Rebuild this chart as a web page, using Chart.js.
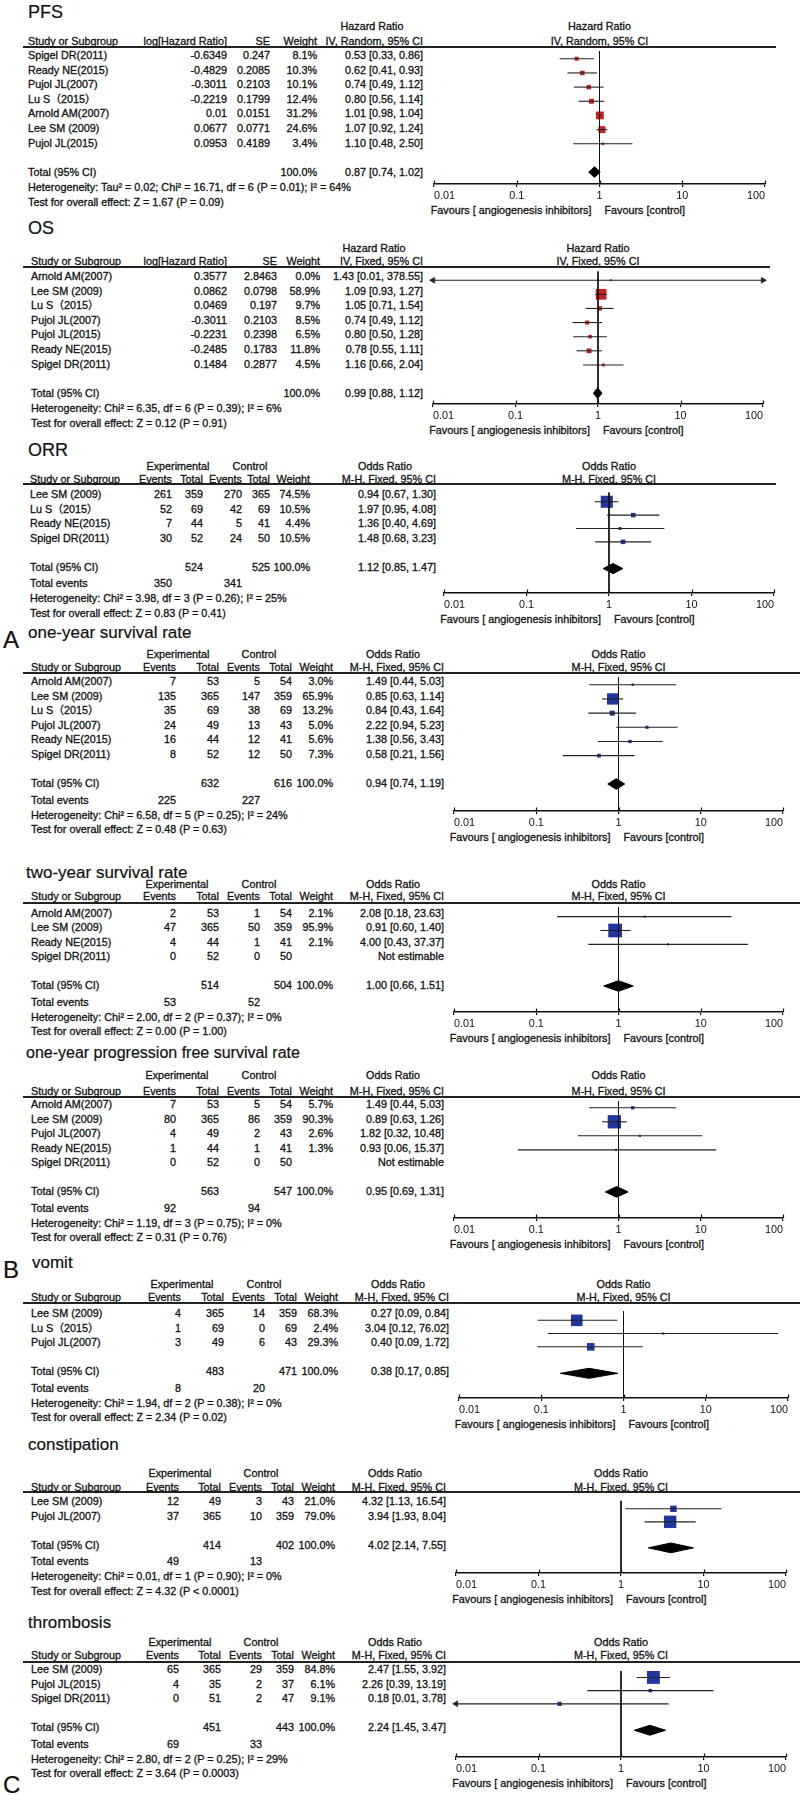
<!DOCTYPE html>
<html><head><meta charset="utf-8">
<script src="https://cdn.jsdelivr.net/npm/chart.js"></script>
<style>
html,body{margin:0;padding:0;background:#fff;}
#page{position:relative;width:800px;height:1795px;overflow:hidden;background:#fff;font-family:"Liberation Sans",Arial,"Noto Sans CJK SC",sans-serif;color:#111;}
.t{position:absolute;white-space:nowrap;line-height:1;font-size:10.8px;-webkit-text-stroke:0.3px #111;}
.hl{position:absolute;height:2px;background:#222;}
canvas{position:absolute;}
</style></head><body><div id="page"></div>
<script>
// ---------- axis ticks ----------
const tickValues = [0.01, 0.1, 1, 10, 100];
const tickLabels = ['0.01', '0.1', '1', '10', '100'];
const favLeft = 'Favours [ angiogenesis inhibitors]';
const favRight = 'Favours [control]';

// ---------- PFS ----------
const pfsStudy = ['Spigel DR(2011)', 'Ready NE(2015)', 'Pujol JL(2007)', 'Lu S（2015）', 'Arnold AM(2007)', 'Lee SM (2009)', 'Pujol JL(2015)'];
const pfsLogHR = [-0.6349, -0.4829, -0.3011, -0.2219, 0.01, 0.0677, 0.0953];
const pfsSE = [0.247, 0.2085, 0.2103, 0.1799, 0.0151, 0.0771, 0.4189];
const pfsWeight = [8.1, 10.3, 10.1, 12.4, 31.2, 24.6, 3.4];
const pfsHR = [0.53, 0.62, 0.74, 0.80, 1.01, 1.07, 1.10];
const pfsLow = [0.33, 0.41, 0.49, 0.56, 0.98, 0.92, 0.48];
const pfsHigh = [0.86, 0.93, 1.12, 1.14, 1.04, 1.24, 2.50];
const pfsTotal = [0.87, 0.74, 1.02];
const pfsHet = 'Heterogeneity: Tau² = 0.02; Chi² = 16.71, df = 6 (P = 0.01); I² = 64%';
const pfsTest = 'Test for overall effect: Z = 1.67 (P = 0.09)';

// ---------- OS ----------
const osStudy = ['Arnold AM(2007)', 'Lee SM (2009)', 'Lu S（2015）', 'Pujol JL(2007)', 'Pujol JL(2015)', 'Ready NE(2015)', 'Spigel DR(2011)'];
const osLogHR = [0.3577, 0.0862, 0.0469, -0.3011, -0.2231, -0.2485, 0.1484];
const osSE = [2.8463, 0.0798, 0.197, 0.2103, 0.2398, 0.1783, 0.2877];
const osWeight = [0.0, 58.9, 9.7, 8.5, 6.5, 11.8, 4.5];
const osHR = [1.43, 1.09, 1.05, 0.74, 0.80, 0.78, 1.16];
const osLow = [0.01, 0.93, 0.71, 0.49, 0.50, 0.55, 0.66];
const osHigh = [378.55, 1.27, 1.54, 1.12, 1.28, 1.11, 2.04];
const osTotal = [0.99, 0.88, 1.12];
const osHet = 'Heterogeneity: Chi² = 6.35, df = 6 (P = 0.39); I² = 6%';
const osTest = 'Test for overall effect: Z = 0.12 (P = 0.91)';

// ---------- ORR ----------
const orrStudy = ['Lee SM (2009)', 'Lu S（2015）', 'Ready NE(2015)', 'Spigel DR(2011)'];
const orrExpEvents = [261, 52, 7, 30];
const orrExpTotal = [359, 69, 44, 52];
const orrCtlEvents = [270, 42, 5, 24];
const orrCtlTotal = [365, 69, 41, 50];
const orrWeight = [74.5, 10.5, 4.4, 10.5];
const orrOR = [0.94, 1.97, 1.36, 1.48];
const orrLow = [0.67, 0.95, 0.40, 0.68];
const orrHigh = [1.30, 4.08, 4.69, 3.23];
const orrTotalN = [524, 525];
const orrTotalEvents = [350, 341];
const orrTotal = [1.12, 0.85, 1.47];
const orrHet = 'Heterogeneity: Chi² = 3.98, df = 3 (P = 0.26); I² = 25%';
const orrTest = 'Test for overall effect: Z = 0.83 (P = 0.41)';

// ---------- one-year survival rate ----------
const y1Study = ['Arnold AM(2007)', 'Lee SM (2009)', 'Lu S（2015）', 'Pujol JL(2007)', 'Ready NE(2015)', 'Spigel DR(2011)'];
const y1ExpEvents = [7, 135, 35, 24, 16, 8];
const y1ExpTotal = [53, 365, 69, 49, 44, 52];
const y1CtlEvents = [5, 147, 38, 13, 12, 12];
const y1CtlTotal = [54, 359, 69, 43, 41, 50];
const y1Weight = [3.0, 65.9, 13.2, 5.0, 5.6, 7.3];
const y1OR = [1.49, 0.85, 0.84, 2.22, 1.38, 0.58];
const y1Low = [0.44, 0.63, 0.43, 0.94, 0.56, 0.21];
const y1High = [5.03, 1.14, 1.64, 5.23, 3.43, 1.56];
const y1TotalN = [632, 616];
const y1TotalEvents = [225, 227];
const y1Total = [0.94, 0.74, 1.19];
const y1Het = 'Heterogeneity: Chi² = 6.58, df = 5 (P = 0.25); I² = 24%';
const y1Test = 'Test for overall effect: Z = 0.48 (P = 0.63)';

// ---------- two-year survival rate ----------
const y2Study = ['Arnold AM(2007)', 'Lee SM (2009)', 'Ready NE(2015)', 'Spigel DR(2011)'];
const y2ExpEvents = [2, 47, 4, 0];
const y2ExpTotal = [53, 365, 44, 52];
const y2CtlEvents = [1, 50, 1, 0];
const y2CtlTotal = [54, 359, 41, 50];
const y2Weight = [2.1, 95.9, 2.1, null];
const y2OR = [2.08, 0.91, 4.00, null];
const y2Low = [0.18, 0.60, 0.43, null];
const y2High = [23.63, 1.40, 37.37, null];
const y2TotalN = [514, 504];
const y2TotalEvents = [53, 52];
const y2Total = [1.00, 0.66, 1.51];
const y2Het = 'Heterogeneity: Chi² = 2.00, df = 2 (P = 0.37); I² = 0%';
const y2Test = 'Test for overall effect: Z = 0.00 (P = 1.00)';

// ---------- one-year progression free survival rate ----------
const pf1Study = ['Arnold AM(2007)', 'Lee SM (2009)', 'Pujol JL(2007)', 'Ready NE(2015)', 'Spigel DR(2011)'];
const pf1ExpEvents = [7, 80, 4, 1, 0];
const pf1ExpTotal = [53, 365, 49, 44, 52];
const pf1CtlEvents = [5, 86, 2, 1, 0];
const pf1CtlTotal = [54, 359, 43, 41, 50];
const pf1Weight = [5.7, 90.3, 2.6, 1.3, null];
const pf1OR = [1.49, 0.89, 1.82, 0.93, null];
const pf1Low = [0.44, 0.63, 0.32, 0.06, null];
const pf1High = [5.03, 1.26, 10.48, 15.37, null];
const pf1TotalN = [563, 547];
const pf1TotalEvents = [92, 94];
const pf1Total = [0.95, 0.69, 1.31];
const pf1Het = 'Heterogeneity: Chi² = 1.19, df = 3 (P = 0.75); I² = 0%';
const pf1Test = 'Test for overall effect: Z = 0.31 (P = 0.76)';

// ---------- vomit ----------
const vomStudy = ['Lee SM (2009)', 'Lu S（2015）', 'Pujol JL(2007)'];
const vomExpEvents = [4, 1, 3];
const vomExpTotal = [365, 69, 49];
const vomCtlEvents = [14, 0, 6];
const vomCtlTotal = [359, 69, 43];
const vomWeight = [68.3, 2.4, 29.3];
const vomOR = [0.27, 3.04, 0.40];
const vomLow = [0.09, 0.12, 0.09];
const vomHigh = [0.84, 76.02, 1.72];
const vomTotalN = [483, 471];
const vomTotalEvents = [8, 20];
const vomTotal = [0.38, 0.17, 0.85];
const vomHet = 'Heterogeneity: Chi² = 1.94, df = 2 (P = 0.38); I² = 0%';
const vomTest = 'Test for overall effect: Z = 2.34 (P = 0.02)';

// ---------- constipation ----------
const conStudy = ['Lee SM (2009)', 'Pujol JL(2007)'];
const conExpEvents = [12, 37];
const conExpTotal = [49, 365];
const conCtlEvents = [3, 10];
const conCtlTotal = [43, 359];
const conWeight = [21.0, 79.0];
const conOR = [4.32, 3.94];
const conLow = [1.13, 1.93];
const conHigh = [16.54, 8.04];
const conTotalN = [414, 402];
const conTotalEvents = [49, 13];
const conTotal = [4.02, 2.14, 7.55];
const conHet = 'Heterogeneity: Chi² = 0.01, df = 1 (P = 0.90); I² = 0%';
const conTest = 'Test for overall effect: Z = 4.32 (P < 0.0001)';

// ---------- thrombosis ----------
const thrStudy = ['Lee SM (2009)', 'Pujol JL(2015)', 'Spigel DR(2011)'];
const thrExpEvents = [65, 4, 0];
const thrExpTotal = [365, 35, 51];
const thrCtlEvents = [29, 2, 2];
const thrCtlTotal = [359, 37, 47];
const thrWeight = [84.8, 6.1, 9.1];
const thrOR = [2.47, 2.26, 0.18];
const thrLow = [1.55, 0.39, 0.01];
const thrHigh = [3.92, 13.19, 3.78];
const thrTotalN = [451, 443];
const thrTotalEvents = [69, 33];
const thrTotal = [2.24, 1.45, 3.47];
const thrHet = 'Heterogeneity: Chi² = 2.80, df = 2 (P = 0.25); I² = 29%';
const thrTest = 'Test for overall effect: Z = 3.64 (P = 0.0003)';

// ================= layout (positions only) =================
const ivCols1 = {name: 28, est: 227, se: 270, w: 317, ci: 423, h1: 372};
const ivCols2 = {name: 31, est: 227, se: 277, w: 320, ci: 423, h1: 374};
const orCols0 = {name: 30, ev: 172, tot: 203, cev: 242, ctot: 270, w: 310, ci: 436, expC: 178, ctlC: 250, orC: 385};
const orCols1 = {name: 31, ev: 176, tot: 219, cev: 260, ctot: 292, w: 333, ci: 444, expC: 178, ctlC: 259, orC: 393};
const orCols2 = {name: 31, ev: 181, tot: 224, cev: 265, ctot: 297, w: 338, ci: 449, expC: 182, ctlC: 264, orC: 398};
const orCols3 = {name: 31, ev: 179, tot: 221, cev: 262, ctot: 294, w: 335, ci: 446, expC: 180, ctlC: 261, orC: 395};

const page = document.getElementById('page');
const FONT = '"Liberation Sans", Arial, "Noto Sans CJK SC", sans-serif';
const FS = 10.8;
Chart.defaults.font.family = FONT;

function T(x, y, s, align, size) {
  const d = document.createElement('div');
  d.className = 't';
  d.textContent = s;
  d.style.left = x + 'px';
  d.style.top = y + 'px';
  if (size) { d.style.fontSize = size + 'px'; d.style.webkitTextStroke = '0.2px #111'; }
  const tx = align === 'r' ? '-100%' : align === 'c' ? '-50%' : '0';
  d.style.transform = 'translate(' + tx + ',-50%)';
  page.appendChild(d);
}
const f2 = v => v.toFixed(2);
const ciStr = (e, l, h) => f2(e) + ' [' + f2(l) + ', ' + f2(h) + ']';

const upTicks = {
  id: 'upTicks',
  afterDraw(chart) {
    const s = chart.scales.x, ctx = chart.ctx, y = chart.chartArea.bottom;
    ctx.save();
    ctx.strokeStyle = '#111';
    ctx.lineWidth = 1.2;
    tickValues.forEach(v => {
      const x = Math.round(s.getPixelForValue(v)) + 0.5;
      ctx.beginPath(); ctx.moveTo(x, y - 3.5); ctx.lineTo(x, y); ctx.stroke();
    });
    ctx.restore();
  }
};

function makeChart(L, est, low, high, weight, rowsY, totY, total, color) {
  const left = 400, width = 400;
  const plotH = L.axisY - L.lineY;
  const tickLen = 3, pad = 3, fs = FS;
  const axisH = tickLen + 2 * pad + fs * 1.2;
  const H = Math.ceil(plotH + axisH + 2);
  const cv = document.createElement('canvas');
  cv.width = width; cv.height = H;
  cv.style.left = left + 'px'; cv.style.top = L.lineY + 'px';
  cv.style.width = width + 'px'; cv.style.height = H + 'px';
  page.appendChild(cv);
  const clampX = v => Math.min(100, Math.max(0.01, v));
  const ds = [];
  ds.push({data: [{x: 1, y: 0}, {x: 1, y: plotH}], borderColor: '#111', borderWidth: 1, pointRadius: 0, clip: false});
  const marks = [], radii = [];
  est.forEach((e, i) => {
    if (e === null) return;
    const y = rowsY[i] - L.lineY;
    const arrowLo = low[i] <= 0.01, arrowHi = high[i] >= 100;
    ds.push({
      data: [{x: clampX(low[i]), y: y}, {x: clampX(high[i]), y: y}],
      borderColor: '#222', borderWidth: 1.1,
      pointRadius: [arrowLo ? 3.5 : 0, arrowHi ? 3.5 : 0],
      pointStyle: 'triangle', pointRotation: [-90, 90],
      pointBackgroundColor: '#222', pointBorderColor: '#222', pointBorderWidth: 0.5,
      clip: false
    });
    marks.push({x: e, y: y});
    const side = Math.max(2, 14 * Math.sqrt(weight[i] / 100));
    radii.push(side / Math.SQRT2);
  });
  ds.push({data: marks, showLine: false, pointStyle: 'rect', pointRadius: radii,
    pointBackgroundColor: color, pointBorderColor: color, pointBorderWidth: 0, clip: false});
  const ty = totY - L.lineY, dh = 5.5;
  ds.push({data: [{x: total[1], y: ty}, {x: total[0], y: ty - dh}, {x: total[2], y: ty}],
    borderColor: '#000', borderWidth: 1, pointRadius: 0, fill: false, clip: false});
  ds.push({data: [{x: total[1], y: ty}, {x: total[0], y: ty + dh}, {x: total[2], y: ty}],
    borderColor: '#000', borderWidth: 1, pointRadius: 0, fill: '-1', backgroundColor: '#000', clip: false});

  new Chart(cv, {
    type: 'line',
    data: {datasets: ds},
    options: {
      responsive: false, animation: false, devicePixelRatio: 1, events: [],
      layout: {padding: {left: L.x0 - left, right: left + width - L.x100, top: 0, bottom: H - plotH - axisH}},
      plugins: {legend: {display: false}, tooltip: {enabled: false}, title: {display: false}},
      elements: {line: {tension: 0}},
      scales: {
        x: {
          type: 'logarithmic', min: 0.01, max: 100, position: 'bottom',
          afterBuildTicks: s => { s.ticks = tickValues.map(v => ({value: v})); },
          ticks: {align: 'inner', padding: pad, autoSkip: false, maxRotation: 0, color: '#111',
            font: {size: fs, family: FONT}, callback: (v, i) => tickLabels[i]},
          grid: {display: true, drawOnChartArea: false, drawTicks: true, tickLength: tickLen, color: '#111', lineWidth: 1.2},
          border: {display: true, color: '#111', width: 1.5}
        },
        y: {type: 'linear', min: 0, max: plotH, reverse: true, display: false}
      }
    },
    plugins: [upTicks]
  });
}

function headerLine(L) {
  const hl = document.createElement('div');
  hl.className = 'hl';
  hl.style.left = '23px';
  hl.style.top = (L.lineY - 1) + 'px';
  hl.style.width = (L.lineR - 23) + 'px';
  page.appendChild(hl);
}

function ivPanel(L, title, method, study, logHR, se, weight, est, low, high, total, het, test, color) {
  const c = L.c;
  T(L.titleX, L.titleY, title, 'l', L.titleSize);
  headerLine(L);
  const xm = (L.x0 + L.x100) / 2;
  T(c.h1, L.h1Y, 'Hazard Ratio', 'c');
  T(xm, L.h1Y, 'Hazard Ratio', 'c');
  T(c.name, L.h2Y, 'Study or Subgroup', 'l');
  T(c.est, L.h2Y, 'log[Hazard Ratio]', 'r');
  T(c.se, L.h2Y, 'SE', 'r');
  T(c.w, L.h2Y, 'Weight', 'r');
  T(c.ci, L.h2Y, method, 'r');
  T(xm, L.h2Y, method, 'c');
  const rowsY = study.map((s, i) => L.row0 + i * L.step);
  study.forEach((s, i) => {
    const y = rowsY[i];
    T(c.name, y, s, 'l');
    T(c.est, y, String(logHR[i]), 'r');
    T(c.se, y, String(se[i]), 'r');
    T(c.w, y, weight[i].toFixed(1) + '%', 'r');
    T(c.ci, y, ciStr(est[i], low[i], high[i]), 'r');
  });
  const totY = L.row0 + (study.length + 1) * L.step;
  T(c.name, totY, 'Total (95% CI)', 'l');
  T(c.w, totY, '100.0%', 'r');
  T(c.ci, totY, ciStr(total[0], total[1], total[2]), 'r');
  T(c.name, totY + 15, het, 'l');
  T(c.name, totY + 30, test, 'l');
  T(xm - 8, L.axisY + 26, favLeft, 'r');
  T(xm + 5, L.axisY + 26, favRight, 'l');
  makeChart(L, est, low, high, weight, rowsY, totY, total, color);
}

function orPanel(L, title, letter, study, eE, eT, cE, cT, weight, est, low, high, totN, totEv, total, het, test) {
  const c = L.c;
  T(L.titleX, L.titleY, title, 'l', L.titleSize);
  if (letter) T(3, L.letterY, letter, 'l', 24);
  headerLine(L);
  const xm = (L.x0 + L.x100) / 2;
  T(c.expC, L.h1Y, 'Experimental', 'c');
  T(c.ctlC, L.h1Y, 'Control', 'c');
  T(c.orC, L.h1Y, 'Odds Ratio', 'c');
  T(xm, L.h1Y, 'Odds Ratio', 'c');
  T(c.name, L.h2Y, 'Study or Subgroup', 'l');
  T(c.ev, L.h2Y, 'Events', 'r');
  T(c.tot, L.h2Y, 'Total', 'r');
  T(c.cev, L.h2Y, 'Events', 'r');
  T(c.ctot, L.h2Y, 'Total', 'r');
  T(c.w, L.h2Y, 'Weight', 'r');
  T(c.ci, L.h2Y, 'M-H, Fixed, 95% CI', 'r');
  T(xm, L.h2Y, 'M-H, Fixed, 95% CI', 'c');
  const rowsY = study.map((s, i) => L.row0 + i * L.step);
  study.forEach((s, i) => {
    const y = rowsY[i];
    T(c.name, y, s, 'l');
    T(c.ev, y, String(eE[i]), 'r');
    T(c.tot, y, String(eT[i]), 'r');
    T(c.cev, y, String(cE[i]), 'r');
    T(c.ctot, y, String(cT[i]), 'r');
    if (est[i] === null) {
      T(c.ci, y, 'Not estimable', 'r');
    } else {
      T(c.w, y, weight[i].toFixed(1) + '%', 'r');
      T(c.ci, y, ciStr(est[i], low[i], high[i]), 'r');
    }
  });
  const totY = L.row0 + (study.length + 1) * L.step;
  T(c.name, totY, 'Total (95% CI)', 'l');
  T(c.tot, totY, String(totN[0]), 'r');
  T(c.ctot, totY, String(totN[1]), 'r');
  T(c.w, totY, '100.0%', 'r');
  T(c.ci, totY, ciStr(total[0], total[1], total[2]), 'r');
  const evY = totY + 16.5;
  T(c.name, evY, 'Total events', 'l');
  T(c.ev, evY, String(totEv[0]), 'r');
  T(c.cev, evY, String(totEv[1]), 'r');
  T(c.name, evY + 15, het, 'l');
  T(c.name, evY + 29.5, test, 'l');
  T(xm - 8, L.axisY + 26, favLeft, 'r');
  T(xm + 5, L.axisY + 26, favRight, 'l');
  makeChart(L, est, low, high, weight, rowsY, totY, total, '#2336a0');
}

const RED = '#c8201e';
const SUB = 17;
ivPanel({titleX: 28, titleY: 12, titleSize: 18, h1Y: 26, h2Y: 41, lineY: 47, lineR: 776, row0: 55, step: 14.6, axisY: 184, x0: 434, x100: 765, c: ivCols1},
  'PFS', 'IV, Random, 95% CI', pfsStudy, pfsLogHR, pfsSE, pfsWeight, pfsHR, pfsLow, pfsHigh, pfsTotal, pfsHet, pfsTest, RED);
ivPanel({titleX: 28, titleY: 228, titleSize: 18, h1Y: 248, h2Y: 261, lineY: 267, lineR: 770, row0: 276, step: 14.6, axisY: 404, x0: 433, x100: 763, c: ivCols2},
  'OS', 'IV, Fixed, 95% CI', osStudy, osLogHR, osSE, osWeight, osHR, osLow, osHigh, osTotal, osHet, osTest, RED);
orPanel({titleX: 28, titleY: 450, titleSize: 18, h1Y: 466, h2Y: 479, lineY: 484, lineR: 776, row0: 494, step: 14.5, axisY: 593, x0: 444, x100: 774, c: orCols0},
  'ORR', null, orrStudy, orrExpEvents, orrExpTotal, orrCtlEvents, orrCtlTotal, orrWeight, orrOR, orrLow, orrHigh, orrTotalN, orrTotalEvents, orrTotal, orrHet, orrTest);
orPanel({titleX: 28, titleY: 632, titleSize: SUB, letterY: 640, h1Y: 654, h2Y: 667, lineY: 673, lineR: 800, row0: 681, step: 14.6, axisY: 811, x0: 454, x100: 783, c: orCols1},
  'one-year survival rate', 'A', y1Study, y1ExpEvents, y1ExpTotal, y1CtlEvents, y1CtlTotal, y1Weight, y1OR, y1Low, y1High, y1TotalN, y1TotalEvents, y1Total, y1Het, y1Test);
orPanel({titleX: 26, titleY: 872, titleSize: SUB, h1Y: 884, h2Y: 896, lineY: 903, lineR: 800, row0: 913, step: 14.4, axisY: 1012, x0: 454, x100: 783, c: Object.assign({}, orCols1, {expC: 177})},
  'two-year survival rate', null, y2Study, y2ExpEvents, y2ExpTotal, y2CtlEvents, y2CtlTotal, y2Weight, y2OR, y2Low, y2High, y2TotalN, y2TotalEvents, y2Total, y2Het, y2Test);
orPanel({titleX: 26, titleY: 1053, titleSize: 16, h1Y: 1075, h2Y: 1091, lineY: 1097, lineR: 800, row0: 1104, step: 14.5, axisY: 1218, x0: 454, x100: 783, c: Object.assign({}, orCols1, {expC: 177})},
  'one-year progression free survival rate', null, pf1Study, pf1ExpEvents, pf1ExpTotal, pf1CtlEvents, pf1CtlTotal, pf1Weight, pf1OR, pf1Low, pf1High, pf1TotalN, pf1TotalEvents, pf1Total, pf1Het, pf1Test);
orPanel({titleX: 32, titleY: 1262, titleSize: SUB, letterY: 1270, h1Y: 1284, h2Y: 1297, lineY: 1303, lineR: 800, row0: 1313, step: 14.5, axisY: 1398, x0: 459, x100: 788, c: orCols2},
  'vomit', 'B', vomStudy, vomExpEvents, vomExpTotal, vomCtlEvents, vomCtlTotal, vomWeight, vomOR, vomLow, vomHigh, vomTotalN, vomTotalEvents, vomTotal, vomHet, vomTest);
orPanel({titleX: 28, titleY: 1444, titleSize: SUB, h1Y: 1473, h2Y: 1487, lineY: 1492, lineR: 800, row0: 1501, step: 14.6, axisY: 1573, x0: 456, x100: 786, c: orCols3},
  'constipation', null, conStudy, conExpEvents, conExpTotal, conCtlEvents, conCtlTotal, conWeight, conOR, conLow, conHigh, conTotalN, conTotalEvents, conTotal, conHet, conTest);
orPanel({titleX: 28, titleY: 1622, titleSize: SUB, letterY: 1785, h1Y: 1642, h2Y: 1655, lineY: 1662, lineR: 800, row0: 1669, step: 14.6, axisY: 1757, x0: 456, x100: 786, c: orCols3},
  'thrombosis', 'C', thrStudy, thrExpEvents, thrExpTotal, thrCtlEvents, thrCtlTotal, thrWeight, thrOR, thrLow, thrHigh, thrTotalN, thrTotalEvents, thrTotal, thrHet, thrTest);
</script>
</body></html>
